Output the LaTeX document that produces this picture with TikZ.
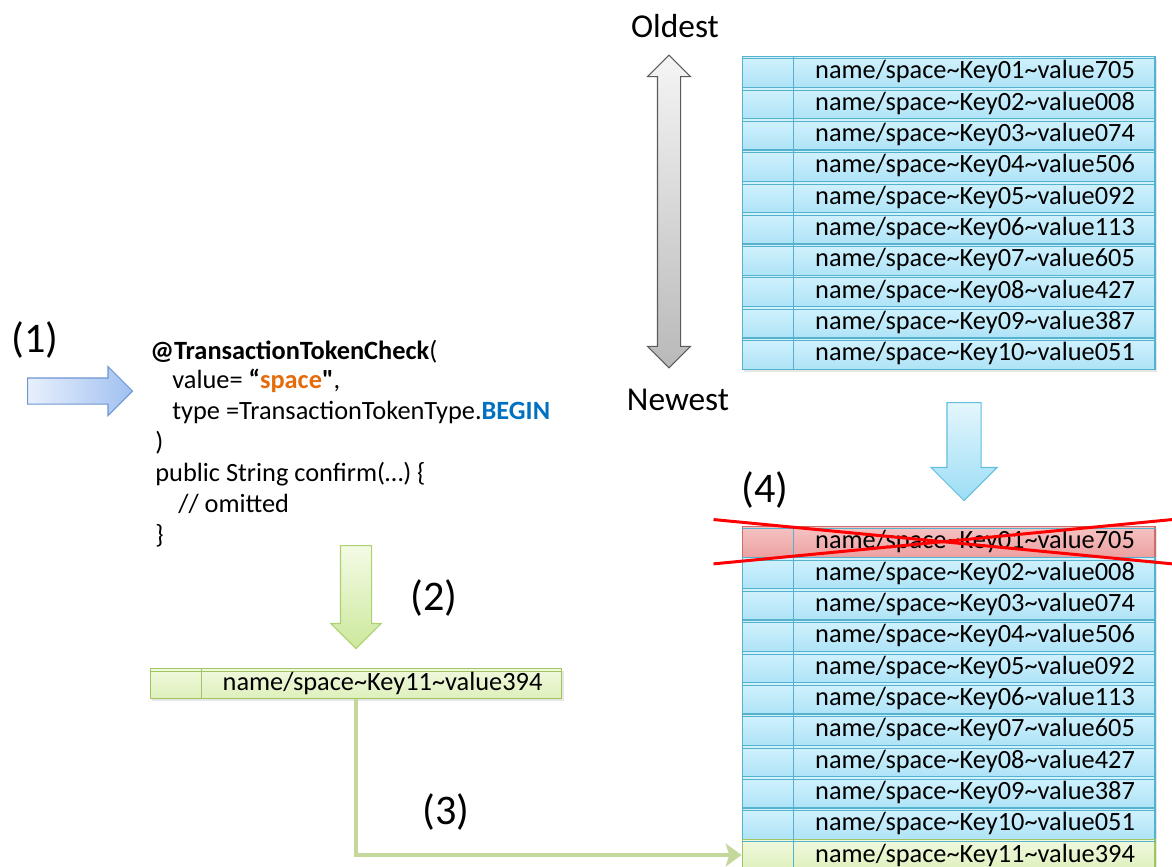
\documentclass[tikz,border=0pt]{standalone}
\usepackage{fontspec}
\setmainfont{Carlito}
\newfontfamily\plainquote{Carlito}
\usetikzlibrary{shapes.arrows, arrows.meta, positioning, calc, shadows}

\definecolor{rowtop}{RGB}{210,242,253}
\definecolor{rowbot}{RGB}{174,227,247}
\definecolor{rowedge}{RGB}{84,178,206}
\definecolor{deltop}{RGB}{246,196,196}
\definecolor{delbot}{RGB}{236,160,160}
\definecolor{deledge}{RGB}{205,110,110}
\definecolor{addtop}{RGB}{240,249,222}
\definecolor{addbot}{RGB}{222,240,188}
\definecolor{addedge}{RGB}{160,196,96}
\definecolor{codeorange}{RGB}{228,108,10}
\definecolor{codeblue}{RGB}{0,112,192}
\definecolor{linkgreen}{RGB}{196,216,156}

\begin{document}
\begin{tikzpicture}[x=0.02cm, y=-0.02cm,
  keyrow/.style={rectangle, draw=rowedge, line width=0.6pt, top color=rowtop, bottom color=rowbot, minimum width=8.26cm, minimum height=0.626cm, inner sep=0pt, drop shadow={opacity=0.2, shadow xshift=0.04cm, shadow yshift=-0.05cm}},
  delrow/.style={keyrow, draw=deledge, top color=deltop, bottom color=delbot},
  addrow/.style={keyrow, draw=addedge, top color=addtop, bottom color=addbot},
  keytext/.style={font=\fontsize{15}{18}\selectfont, inner sep=0pt},
  codeline/.style={font=\fontsize{15}{18}\selectfont, anchor=base west, inner sep=0pt},
  steplabel/.style={font=\fontsize{24}{28}\selectfont, inner sep=0pt},
  agelabel/.style={font=\fontsize{19}{23}\selectfont, inner sep=0pt},
  fatarrow/.style={single arrow, line width=0.6pt, single arrow tip angle=90, inner xsep=0pt, anchor=tail},
  strike/.style={draw=red, line width=1.7pt},
  link/.style={draw=linkgreen, line width=2.6pt, -{Stealth[length=9pt, width=13pt, inset=2pt]}},
]
\useasboundingbox (0,0) rectangle (1172,866);

\node[steplabel] (s1) at (35,340) {(1)};
\node[steplabel] (s2) at (434,598) {(2)};
\node[steplabel] (s3) at (446,812) {(3)};
\node[steplabel] (s4) at (765,490) {(4)};

\node[fatarrow, draw={rgb,255:red,110;green,150;blue,210}, left color={rgb,255:red,232;green,240;blue,253}, right color={rgb,255:red,160;green,192;blue,240}, minimum height=2.1cm, inner ysep=0.25cm, single arrow head extend=0.23cm] (push) at (27,391) {};

\node[codeline] (code1) at (150,359) {\textbf{@TransactionTokenCheck}(};
\node[codeline] (code2) at (172,388) {value= \textbf{“\textcolor{codeorange}{space}{\plainquote"}},};
\node[codeline] (code3) at (172,419) {type =TransactionTokenType.\textbf{\textcolor{codeblue}{BEGIN}}};
\node[codeline] (code4) at (155,450) {)};
\node[codeline] (code5) at (155,481) {public String confirm(…) \{};
\node[codeline] (code6) at (178,512) {// omitted};
\node[codeline] (code7) at (155,543) {\}};

\node[fatarrow, draw={rgb,255:red,172;green,210;blue,112}, top color={rgb,255:red,244;green,251;blue,230}, bottom color={rgb,255:red,204;green,232;blue,156}, shape border rotate=270, minimum height=2.06cm, inner sep=0.3cm, single arrow head extend=0.19cm] (issue) at (356,545) {};

\node[addrow, minimum width=8.24cm, minimum height=0.6cm] (key11) at (356,683.5) {};
\draw[addedge, line width=0.6pt] ([xshift=1.04cm]key11.north west) -- ([xshift=1.04cm]key11.south west);
\draw[addedge, line width=0.4pt] ([yshift=-0.06cm]key11.north west) -- ([yshift=-0.06cm]key11.north east);
\node[keytext] (key11txt) at ($(key11)+(26.5,0)$) {name/space\textasciitilde Key11\textasciitilde value394};

\node[agelabel] (oldest) at (675,26) {Oldest};
\node[agelabel] (newest) at (678,400) {Newest};
\node[double arrow, draw={rgb,255:red,90;green,90;blue,90}, line width=0.6pt, top color=gray!8, bottom color=gray!55, shape border rotate=90, double arrow tip angle=90, minimum height=6.26cm, inner sep=0.22cm, double arrow head extend=0.2cm] (age) at (669,211.5) {};

\foreach \k/\v [count=\i from 0] in {01/705, 02/008, 03/074, 04/506, 05/092, 06/113, 07/605, 08/427, 09/387, 10/051} {
  \pgfmathsetmacro\yy{71.7+31.33*\i}
  \node[keyrow] (old\k) at (948.5,\yy) {};
  \draw[rowedge, line width=0.6pt] ([xshift=1.04cm]old\k.north west) -- ([xshift=1.04cm]old\k.south west);
  \draw[rowedge, line width=0.4pt] ([yshift=-0.06cm]old\k.north west) -- ([yshift=-0.06cm]old\k.north east);
  \node[keytext] (oldtxt\k) at ($(old\k)+(26.5,0)$) {name/space\textasciitilde Key\k\textasciitilde value\v};
}

\node[fatarrow, draw={rgb,255:red,100;green,190;blue,222}, top color={rgb,255:red,228;green,246;blue,253}, bottom color={rgb,255:red,156;green,222;blue,246}, shape border rotate=270, minimum height=1.96cm, inner sep=0.33cm, single arrow head extend=0.32cm] (shift) at (964,402) {};

\foreach \k/\v/\s [count=\i from 0] in {01/705/delrow, 02/008/keyrow, 03/074/keyrow, 04/506/keyrow, 05/092/keyrow, 06/113/keyrow, 07/605/keyrow, 08/427/keyrow, 09/387/keyrow, 10/051/keyrow, 11/394/addrow} {
  \pgfmathsetmacro\yy{541.7+31.33*\i}
  \node[\s] (new\k) at (948.5,\yy) {};
  \draw[rowedge, line width=0.6pt] ([xshift=1.04cm]new\k.north west) -- ([xshift=1.04cm]new\k.south west);
  \draw[rowedge, line width=0.4pt] ([yshift=-0.06cm]new\k.north west) -- ([yshift=-0.06cm]new\k.north east);
  \node[keytext] (newtxt\k) at ($(new\k)+(26.5,0)$) {name/space\textasciitilde Key\k\textasciitilde value\v};
}

\draw[strike] ($(new01.north west)+(-28,-6)$) -- ($(new01.south east)+(17,6)$);
\draw[strike] ($(new01.south west)+(-28,6)$) -- ($(new01.north east)+(17,-6)$);

\draw[link] (key11.south) |- (new11.west);
\end{tikzpicture}
\end{document}
